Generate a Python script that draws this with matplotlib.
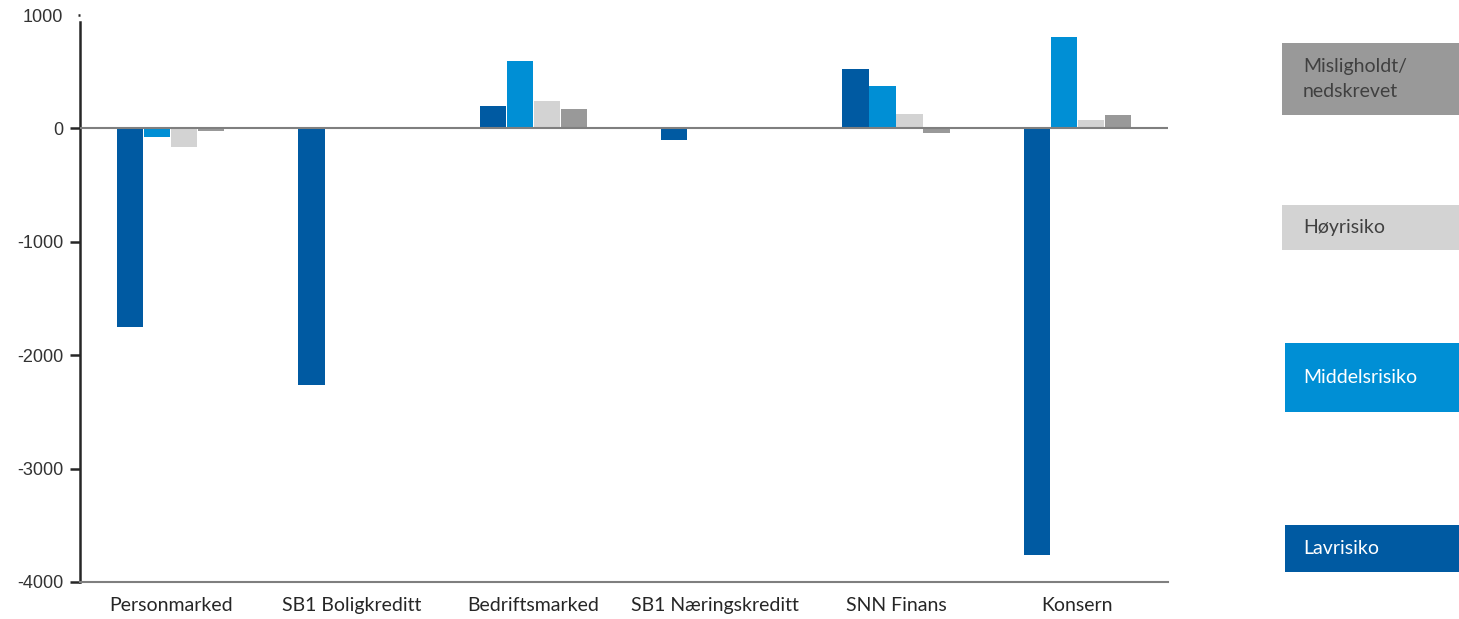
import numpy as np
import matplotlib
matplotlib.use("Agg")
import matplotlib.pyplot as plt
from matplotlib.patches import Rectangle

categories = ["Personmarked", "SB1 Boligkreditt", "Bedriftsmarked",
              "SB1 Næringskreditt", "SNN Finans", "Konsern"]
series = ["Lavrisiko", "Middelsrisiko", "Høyrisiko", "Misligholdt/\nnedskrevet"]
lavrisiko = [-1755, -2260, 200, -100, 520, -3760]
middelsrisiko = [-80, 0, 590, 0, 370, 805]
hoyrisiko = [-165, 0, 245, 0, 130, 70]
mislighold = [-25, 0, 175, 0, -40, 120]
yticks = [1000, 0, -1000, -2000, -3000, -4000]

colors = ["#005AA2", "#008FD5", "#D3D3D3", "#999999"]
text_colors = ["white", "white", "#404040", "#404040"]

fig = plt.figure(figsize=(14.59, 6.19), dpi=100)
ax = fig.add_axes([80 / 1459, 1 - 582 / 619, (1168 - 80) / 1459, (582 - 15) / 619])

x = np.arange(len(categories))
step = 0.149
width = 0.144
values = [lavrisiko, middelsrisiko, hoyrisiko, mislighold]
for i, vals in enumerate(values):
    ax.bar(x + (i - 1.5) * step, vals, width=width, color=colors[i], zorder=2)

ax.axhline(0, color="#7f7f7f", linewidth=1.5, zorder=3)
ax.set_xlim(-0.5, 5.5)
ax.set_ylim(-4000, 1000)
ax.set_yticks(yticks)
ax.set_yticklabels([str(v) for v in yticks], fontsize=13, color="#333333",
                   family="Liberation Sans")
ax.set_xticks(x)
ax.set_xticklabels(categories, fontsize=14, color="#262626", family="Lato")
ax.tick_params(axis="x", length=0, pad=11)
ax.tick_params(axis="y", length=7, width=1.8, color="#262626", pad=5)
# the top tick sits above the spine and only shows as a small dot
ax.yaxis.get_major_ticks()[0].tick1line.set_markersize(1.5)
ax.yaxis.get_major_ticks()[0].tick1line.set_color("#888888")

for s in ["top", "right"]:
    ax.spines[s].set_visible(False)
ax.spines["left"].set_color("#262626")
ax.spines["left"].set_linewidth(1.8)
ax.spines["left"].set_bounds(-4000, 935)
ax.spines["bottom"].set_color("#7f7f7f")
ax.spines["bottom"].set_linewidth(1.5)

# legend boxes on the right, drawn in figure pixels
boxes = [(1285, 525, 572), (1285, 343, 412), (1282, 205, 250), (1282, 43, 115)]
for i, (x0, top, bottom) in enumerate(boxes):
    rect = Rectangle((x0 / 1459, 1 - bottom / 619), (1459 - x0) / 1459,
                     (bottom - top) / 619, transform=fig.transFigure,
                     facecolor=colors[i], edgecolor="none")
    fig.patches.append(rect)
    fig.text(1303 / 1459, 1 - (top + bottom) / 2 / 619, series[i],
             color=text_colors[i], fontsize=14, family="Lato",
             va="center", ha="left", linespacing=1.6)

fig.savefig("out.png", dpi=100)
